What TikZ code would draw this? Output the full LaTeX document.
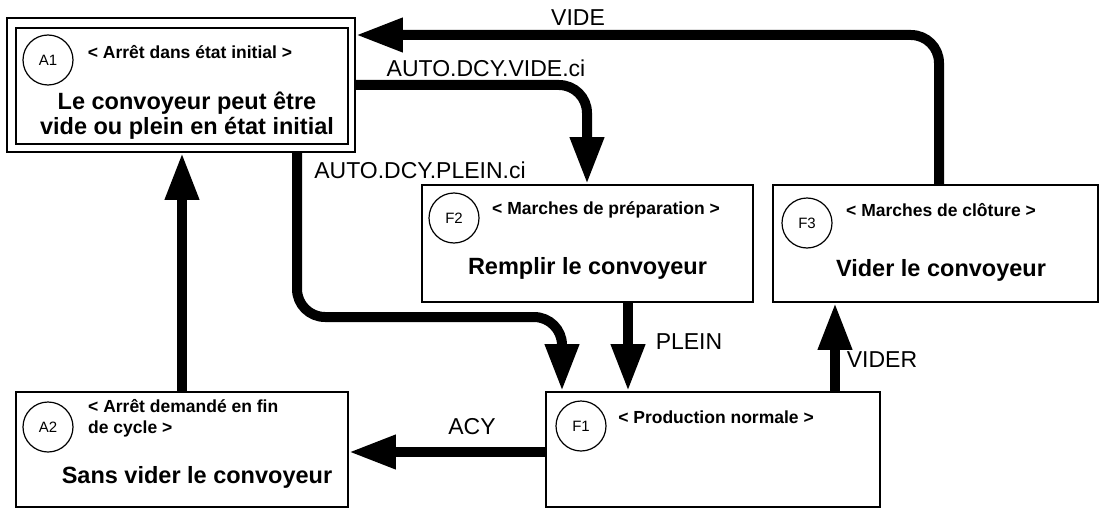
\documentclass[tikz,border=0pt]{standalone}
\usepackage{fontspec}
\setmainfont{Liberation Sans}
\usetikzlibrary{arrows.meta}
\begin{document}
\begin{tikzpicture}[x=1pt,y=-1pt,
  box/.style={draw, line width=1.8pt, rectangle, inner sep=0pt},
  idc/.style={draw, circle, line width=1.2pt, minimum size=50pt, inner sep=0pt, font=\fontsize{15}{18}\selectfont},
  title/.style={inner sep=0pt, font=\fontsize{17.5}{21}\selectfont\bfseries},
  maintext/.style={inner sep=0pt, align=center, font=\fontsize{23.5}{25}\selectfont\bfseries},
  lbl/.style={inner sep=0pt, font=\fontsize{23}{27}\selectfont},
  flow/.style={line width=10pt, rounded corners=28pt, -{Triangle[width=32pt,length=47pt]}}
]
\useasboundingbox (0,0) rectangle (1099,508);

% A1 (double frame)
\node[box, minimum width=348pt, minimum height=134pt] (A1) at (181,85) {};
\node[box, minimum width=332pt, minimum height=116pt] (A1in) at (182,86) {};
\node[idc] (A1c) at (48,60) {A1};
\node[title] (A1t) at (190,52) {< Arrêt dans état initial >};
\node[maintext] (A1m) at (187,116) {Le convoyeur peut être\\vide ou plein en état initial};

% F2
\node[box, minimum width=331pt, minimum height=117pt] (F2) at (587.5,243.5) {};
\node[idc] (F2c) at (454,218) {F2};
\node[title] (F2t) at (606,210) {< Marches de préparation >};
\node[maintext] (F2m) at (587.5,268) {Remplir le convoyeur};

% F3
\node[box, minimum width=325pt, minimum height=117pt] (F3) at (935.5,243.5) {};
\node[idc] (F3c) at (807,223) {F3};
\node[title] (F3t) at (941,210) {< Marches de clôture >};
\node[maintext] (F3m) at (941,270) {Vider le convoyeur};

% A2
\node[box, minimum width=332pt, minimum height=115pt] (A2) at (182,449.5) {};
\node[idc] (A2c) at (48,427) {A2};
\node[title, align=left, anchor=west, font=\fontsize{17.5}{21}\selectfont\bfseries] (A2t) at (88,418) {< Arrêt demandé en fin\\de cycle >};
\node[maintext] (A2m) at (197,477) {Sans vider le convoyeur};

% F1
\node[box, minimum width=334pt, minimum height=115pt] (F1) at (713,449.5) {};
\node[idc] (F1c) at (581,426) {F1};
\node[title] (F1t) at (716,417) {< Production normale >};

% routing coordinates
\coordinate (pVide) at (939,35);
\coordinate (pVci) at (587,85);
\coordinate (pP1) at (297,317);
\coordinate (pP2) at (562,317);
\coordinate (pPlein) at (628,0);
\coordinate (pVider) at (835,0);
\coordinate (pAcy) at (0,452);
\coordinate (pA2) at (182,0);

% connectors
\draw[flow] (F3.north -| pVide) |- (A1.east |- pVide);
\draw[flow] (A1.east |- pVci) -| (F2.north -| pVci);
\draw[flow] (A1.south -| pP1) |- (pP2) -- (F1.north -| pP2);
\draw[flow] (F2.south -| pPlein) -- (F1.north -| pPlein);
\draw[flow] (F1.north -| pVider) -- (F3.south -| pVider);
\draw[flow] (F1.west |- pAcy) -- (A2.east |- pAcy);
\draw[flow] (A2.north -| pA2) -- (A1.south -| pA2);

% labels
\node[lbl] (lVide) at (578,18) {VIDE};
\node[lbl] (lVci) at (486,68) {AUTO.DCY.VIDE.ci};
\node[lbl] (lPci) at (420,170) {AUTO.DCY.PLEIN.ci};
\node[lbl] (lPlein) at (689,342) {PLEIN};
\node[lbl] (lVider) at (882,360) {VIDER};
\node[lbl] (lAcy) at (472,427) {ACY};
\end{tikzpicture}
\end{document}
